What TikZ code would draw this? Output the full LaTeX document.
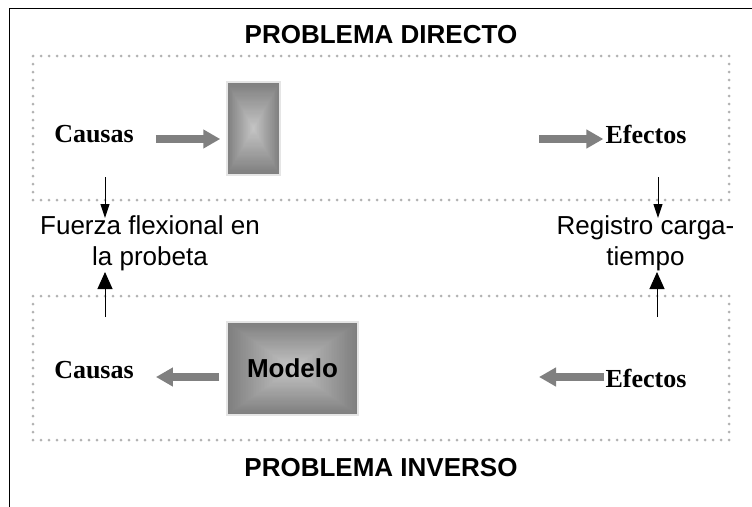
\documentclass[tikz,border=0pt]{standalone}
\usepackage{fontspec}
\setmainfont{Liberation Sans}
\newfontfamily\tnr{Liberation Serif}
\usetikzlibrary{arrows.meta,calc}
\definecolor{boxdk}{HTML}{7E7E7E}
\definecolor{boxlt}{HTML}{C4C4C4}
\begin{document}
\begin{tikzpicture}[x=1pt,y=-1pt,
  title/.style={font=\bfseries\fontsize{26}{31}\selectfont, inner sep=0pt},
  lbl/.style={font=\fontsize{26}{31}\selectfont, align=center, inner sep=0pt},
  ce/.style={font=\tnr\bfseries\fontsize{26}{31}\selectfont, inner sep=0pt},
  dotbox/.style={draw=black!30, line width=3pt, line cap=round, dash pattern=on 0pt off 8pt},
  fatarrow/.style={draw=black!50, line width=8pt, -{Triangle[length=17pt,width=18pt]}},
  downarrow/.style={draw=black, line width=1pt, -{Triangle[length=14pt,width=9pt]}},
  uparrow/.style={draw=black, line width=1pt, -{Triangle[length=17pt,width=15pt]}},
  shbox/.style={draw=black!10, line width=1.5pt, inner sep=0pt,
    path picture={
      \foreach \i in {0,...,40}{
        \pgfmathsetmacro{\p}{2.5*\i}
        \pgfmathsetmacro{\q}{1-\i/41}
        \fill[boxlt!\p!boxdk]
          ($(path picture bounding box.center)!\q!(path picture bounding box.north west)$)
          rectangle
          ($(path picture bounding box.center)!\q!(path picture bounding box.south east)$);
      }
    }},
]
\useasboundingbox (0,0) rectangle (752,506);
\clip (0,0) rectangle (752,506);
\fill[white] (0,0) rectangle (752,506);
% outer frame (only top and left visible)
\draw[line width=1.3pt] (9.5,8.5) rectangle (800,560);
% dotted boxes
\draw[dotbox] (33,56) rectangle (729,200);
\draw[dotbox] (33,296) rectangle (729,440);
% titles
\node[title] (t1) at (381,35) {PROBLEMA DIRECTO};
\node[title] (t2) at (381,468) {PROBLEMA INVERSO};
% direct problem
\node[ce] (c1) at (94,134.5) {Causas};
\node[shbox, minimum width=53pt, minimum height=93pt] (b1) at (253.5,128.5) {};
\node[ce] (e1) at (646,134) {Efectos};
\coordinate (s1) at (539,139);
\draw[fatarrow] ([xshift=22pt,yshift=-4.5pt]c1.east) -- ([xshift=-6pt,yshift=-4.5pt]c1.east -| b1.west);
\draw[fatarrow] (s1) -- ([xshift=-2pt]s1 -| e1.west);
% middle labels
\node[lbl] (f) at (150,243) {Fuerza flexional en\\la probeta};
\node[lbl] (r) at (645.5,243) {Registro carga-\\tiempo};
\coordinate (d1) at (105,177);
\coordinate (d1e) at (105,218);
\coordinate (d2) at (658,177);
\coordinate (d2e) at (658,218);
\draw[downarrow] (d1) -- (d1e);
\draw[downarrow] (d2) -- (d2e);
\coordinate (u1) at (105,317);
\coordinate (u1e) at (105,272);
\coordinate (u2) at (657,317);
\coordinate (u2e) at (657,272);
\draw[uparrow] (u1) -- (u1e);
\draw[uparrow] (u2) -- (u2e);
% inverse problem
\node[ce] (c2) at (94,370.5) {Causas};
\node[shbox, minimum width=131pt, minimum height=93pt, font=\bfseries\fontsize{26}{31}\selectfont] (m) at (292.5,368.5) {Modelo};
\node[ce] (e2) at (646,378) {Efectos};
\coordinate (s2) at (539,377);
\draw[fatarrow] ([xshift=-7pt]s2 -| m.west) -- ([xshift=22pt]s2 -| c2.east);
\draw[fatarrow] ([xshift=-1pt]s2 -| e2.west) -- (s2);
\end{tikzpicture}
\end{document}
